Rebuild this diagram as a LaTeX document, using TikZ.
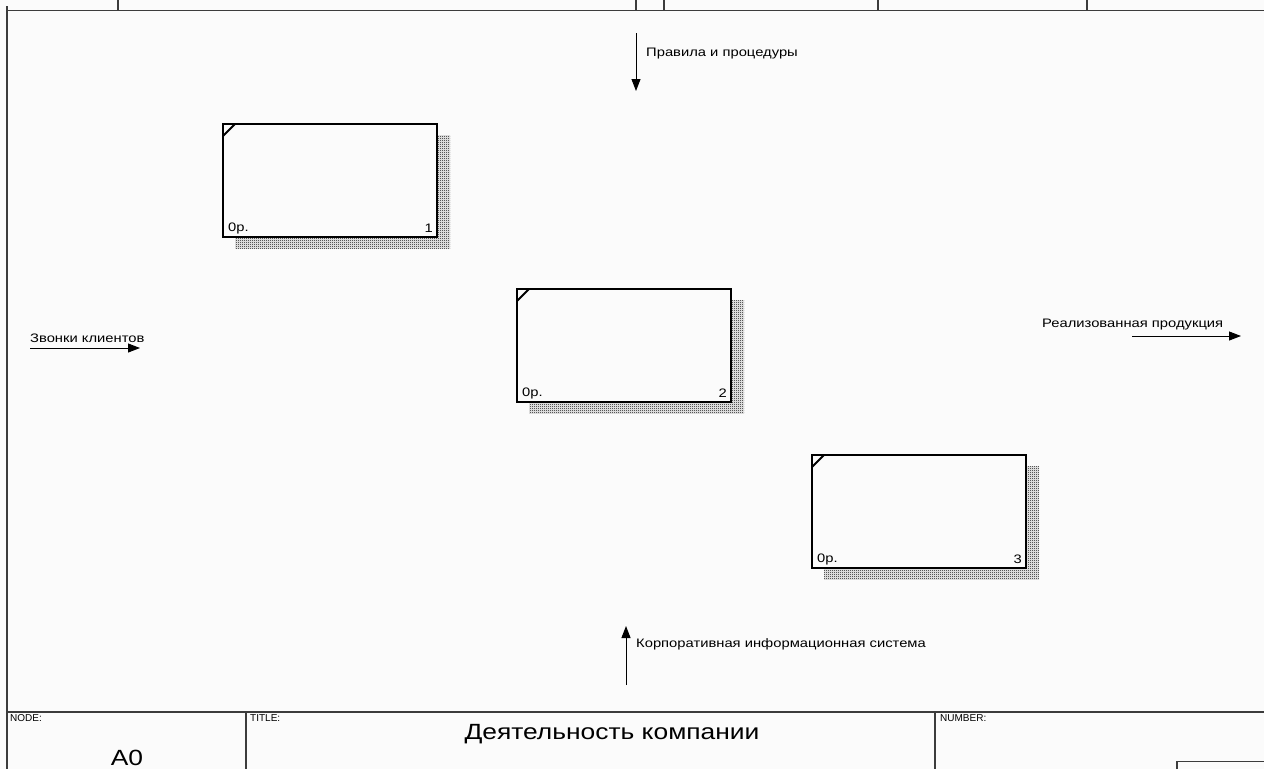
\documentclass[tikz,border=0pt]{standalone}
\usepackage{fontspec}
\setmainfont{Liberation Sans}
\newfontfamily\widefont[FakeStretch=1.2]{Liberation Sans}
\usetikzlibrary{patterns,arrows.meta}
\pgfdeclarepatternformonly{checker}{\pgfpointorigin}{\pgfpoint{2pt}{2pt}}{\pgfpoint{2pt}{2pt}}{%
  \pgfpathrectangle{\pgfpoint{0pt}{0pt}}{\pgfpoint{1pt}{1pt}}%
  \pgfpathrectangle{\pgfpoint{1pt}{1pt}}{\pgfpoint{1pt}{1pt}}%
  \pgfusepath{fill}}
\definecolor{bg}{RGB}{251,251,251}
\definecolor{frame}{RGB}{60,60,60}
\tikzset{
  frameline/.style={draw=frame, line width=1.3pt},
  actbox/.style={draw=black, line width=2.4pt, fill=bg},
  actshadow/.style={pattern=checker, pattern color=black},
  lbl/.style={font=\widefont\fontsize{12.3}{14}\selectfont, inner sep=0pt, text=black},
  tiny/.style={font=\fontsize{10}{12}\selectfont, inner sep=0pt, text=black},
  big/.style={font=\widefont\fontsize{22}{26}\selectfont, inner sep=0pt, text=black},
  arr/.style={draw=black, line width=1pt, -{Triangle[length=12pt,width=9pt]}},
}
\begin{document}
\begin{tikzpicture}[x=1pt,y=-1pt]
\useasboundingbox (0,0) rectangle (1264,769);
\fill[bg] (0,0) rectangle (1264,769);
% frame
\draw[frameline] (7,6) -- (7,769);
\draw[frameline] (7,10.5) -- (1264,10.5);
\foreach \x in {118,636,664,878,1087} \draw[frameline] (\x,0) -- (\x,10.5);
\draw[frameline] (7,712) -- (1264,712);
\draw[frameline] (246,712) -- (246,769);
\draw[frameline] (935,712) -- (935,769);
\draw[frameline] (1177,769) -- (1177,761.5) -- (1264,761.5);
\node[tiny, anchor=north west] (nodelbl) at (10,714) {NODE:};
\node[tiny, anchor=north west] (titlelbl) at (250,714) {TITLE:};
\node[tiny, anchor=north west] (numlbl) at (940,714) {NUMBER:};
\node[big, anchor=base] (nodeval) at (127,765) {A0};
\node[big, anchor=base] (title) at (612,739) {Деятельность компании};
% boxes
\foreach \n/\xa/\ya in {1/223/124, 2/517/289, 3/812/455}{
  \fill[actshadow] (\xa+12,\ya+11) rectangle (\xa+227,\ya+124);
  \draw[actbox] (\xa,\ya) rectangle (\xa+214,\ya+113);
  \draw[black, line width=2pt] (\xa,\ya+12) -- (\xa+12,\ya);
  \coordinate (b\n) at (\xa,\ya);
  \node[lbl, anchor=west] (p\n) at (\xa+5,\ya+104) {0р.};
  \node[lbl, anchor=east] (n\n) at (\xa+210,\ya+104) {\n};
}
% arrows
\coordinate (ctrlA) at (636,33);
\coordinate (ctrlB) at (636,91);
\draw[arr] (ctrlA) -- (ctrlB);
\node[lbl, anchor=west] (ctrlL) at (646,54) {Правила и процедуры};

\coordinate (inA) at (30,348);
\coordinate (inB) at (140,348);
\draw[arr] (inA) -- (inB);
\node[lbl, anchor=west] (inL) at (30,338) {Звонки клиентов};

\coordinate (outA) at (1132,336);
\coordinate (outB) at (1241,336);
\draw[arr] (outA) -- (outB);
\node[lbl, anchor=west] (outL) at (1042,325) {Реализованная продукция};

\coordinate (mechA) at (626,685);
\coordinate (mechB) at (626,626);
\draw[arr] (mechA) -- (mechB);
\node[lbl, anchor=west] (mechL) at (636,644) {Корпоративная информационная система};
\end{tikzpicture}
\end{document}
